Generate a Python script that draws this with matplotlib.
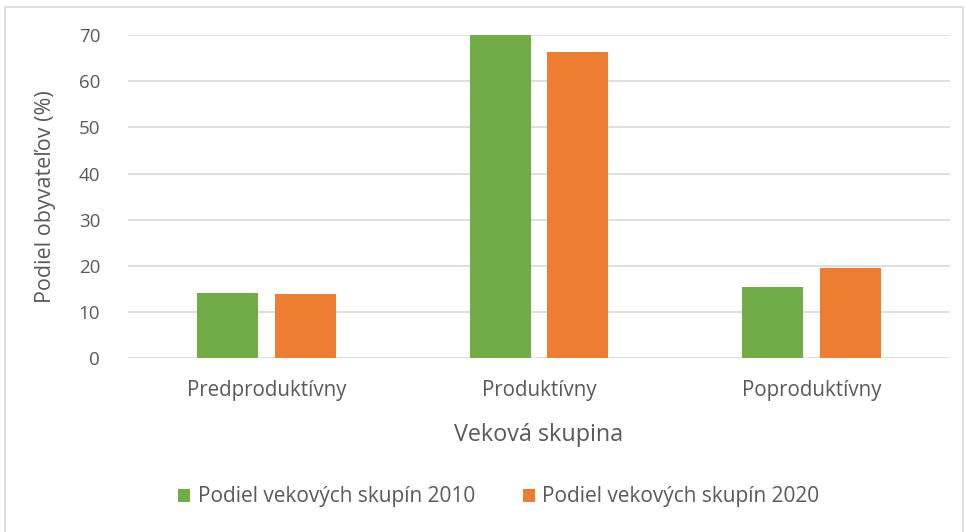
import numpy as np
import matplotlib.pyplot as plt
from matplotlib.patches import Rectangle

categories = ['Predproduktívny', 'Produktívny', 'Poproduktívny']
podiel_2010 = [14.1, 70.1, 15.4]
podiel_2020 = [13.9, 66.4, 19.6]
series_names = ['Podiel vekových skupín 2010', 'Podiel vekových skupín 2020']

plt.rcParams['font.family'] = ['Open Sans', 'DejaVu Sans']

fig = plt.figure(figsize=(9.65, 5.32), dpi=100)
ax = fig.add_axes([0.1326, 0.327, 0.852, 0.607])

x = np.arange(len(categories))
w = 0.224
off = 0.143
ax.bar(x - off, podiel_2010, w, color='#70AD47', label=series_names[0], zorder=3)
ax.bar(x + off, podiel_2020, w, color='#ED7D31', label=series_names[1], zorder=3)

ax.set_ylim(0, 70)
ax.set_xlim(-0.51, 2.51)
ax.set_yticks(range(0, 71, 10))
ax.yaxis.grid(True, color='#D9D9D9', linewidth=1.2, zorder=0)
for s in ax.spines.values():
    s.set_visible(False)
ax.tick_params(axis='both', length=0, labelcolor='#595959')
ax.tick_params(axis='y', pad=20, labelsize=13.5)
ax.tick_params(axis='x', pad=16, labelsize=14.8)
ax.set_xticks(x)
ax.set_xticklabels(categories)

ax.set_ylabel('Podiel obyvateľov (%)', fontsize=15.5, color='#595959', labelpad=16)
ax.set_xlabel('Veková skupina', fontsize=16.8, color='#595959', labelpad=16)

fig.legend(loc='center', bbox_to_anchor=(0.517, 0.066), ncol=2, frameon=False,
           fontsize=15, labelcolor='#595959', handlelength=0.58, handleheight=0.58,
           handletextpad=0.35, columnspacing=2.3)

fig.patches.append(Rectangle((0.005, -0.02), 0.993, 1.007, transform=fig.transFigure,
                             fill=False, edgecolor='#D9D9D9', linewidth=1.2))

fig.savefig('out.png', dpi=100)
